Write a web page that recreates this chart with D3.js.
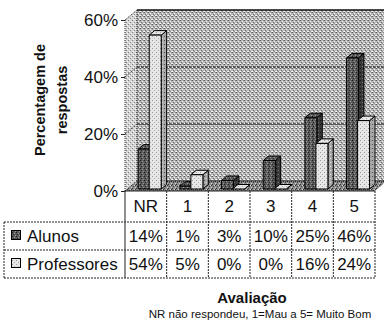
<!DOCTYPE html>
<html>
<head>
<meta charset="utf-8">
<script src="https://cdn.jsdelivr.net/npm/d3@7"></script>
<style>
  html, body { margin: 0; padding: 0; background: #fff; }
  svg { display: block; font-family: Arial, "Liberation Sans", sans-serif; }
</style>
</head>
<body>
<svg id="chart" width="384" height="322"></svg>
<script>
// Survey ratings: share of answers per rating, students vs. teachers
const categories = ["NR", "1", "2", "3", "4", "5"];
const alunos = [0.14, 0.01, 0.03, 0.10, 0.25, 0.46];
const professores = [0.54, 0.05, 0.00, 0.00, 0.16, 0.24];
const seriesNames = ["Alunos", "Professores"];
const yTicks = [0, 0.2, 0.4, 0.6];
const yTitle = ["Percentagem de", "respostas"];
const xTitle = "Avaliação";
const xNote = "NR não respondeu, 1=Mau a 5= Muito Bom";

const svg = d3.select("#chart");
const defs = svg.append("defs");

// dithered fills
function grain(id, base, dots, step) {
  const p = defs.append("pattern").attr("id", id)
    .attr("width", step).attr("height", step).attr("patternUnits", "userSpaceOnUse");
  p.append("rect").attr("width", step).attr("height", step).attr("fill", base);
  dots.forEach(([x, y, c]) => p.append("rect").attr("x", x).attr("y", y)
    .attr("width", 1).attr("height", 1).attr("fill", c));
}
grain("wall", "#b8b8b8", [[0,0,"#5a5a5a"],[2,1,"#f0f0f0"],[1,2,"#707070"],[3,3,"#efefef"],[3,0,"#8a8a8a"],[0,3,"#ffffff"],[2,3,"#888"]], 4);
grain("side", "#d4d4d4", [[0,0,"#7c7c7c"],[2,2,"#8a8a8a"],[1,3,"#ffffff"],[3,1,"#f4f4f4"]], 4);
grain("floor", "#8a8a8a", [[0,0,"#303030"],[2,1,"#d0d0d0"],[1,2,"#444"],[3,3,"#cfcfcf"],[3,1,"#333"]], 4);
grain("darkF", "#5a5a5a", [[0,0,"#1e1e1e"],[2,1,"#a0a0a0"],[1,2,"#2a2a2a"],[3,3,"#9a9a9a"]], 4);
grain("darkS", "#3a3a3a", [[0,0,"#111"],[2,2,"#777"]], 4);
grain("lightF", "#e6e6e6", [[0,0,"#9a9a9a"],[2,2,"#b0b0b0"]], 4);
grain("lightS", "#a8a8a8", [[0,0,"#555"],[2,2,"#e0e0e0"]], 4);

// plot geometry
const x0 = 125, x1 = 375;
const DX = 12, DY = -10;            // full floor depth
const x = d3.scaleBand().domain(categories).range([x0, x1]);
const y = d3.scaleLinear().domain([0, 0.6]).range([191, 20]);

const g = svg.append("g");

// side wall, back wall, floor
g.append("polygon")
  .attr("points", [[x0, y(0.6)], [x0 + DX, y(0.6) + DY], [x0 + DX, y(0) + DY], [x0, y(0)]].join(" "))
  .attr("fill", "url(#side)");
g.append("polygon")
  .attr("points", [[x0 + DX, y(0.6) + DY], [x1 + DX, y(0.6) + DY], [x1 + DX, y(0) + DY], [x0 + DX, y(0) + DY]].join(" "))
  .attr("fill", "url(#wall)");
g.append("polygon")
  .attr("points", [[x0, y(0)], [x0 + DX, y(0) + DY], [x1 + DX, y(0) + DY], [x1, y(0)]].join(" "))
  .attr("fill", "url(#floor)");

// gridlines on back and side walls
yTicks.forEach(t => {
  g.append("line")
    .attr("x1", x0 + DX).attr("x2", x1 + DX)
    .attr("y1", y(t) + DY).attr("y2", y(t) + DY)
    .attr("stroke", "#111").attr("stroke-width", t === 0.6 ? 1.5 : 1)
    .attr("stroke-dasharray", t === 0.6 ? null : "3,1");
  g.append("line")
    .attr("x1", x0).attr("x2", x0 + DX)
    .attr("y1", y(t)).attr("y2", y(t) + DY)
    .attr("stroke", "#222").attr("stroke-dasharray", "1,1");
});
g.append("line").attr("x1", x0 + DX).attr("x2", x0 + DX)
  .attr("y1", y(0.6) + DY).attr("y2", y(0) + DY)
  .attr("stroke", "#333").attr("stroke-dasharray", "1,1");

// 3D bars
const fx = 2.4, fy = -2;      // front face depth offset
const bx = 5.4, by = -4.5;    // bar depth
const bw = 12;
function bar(cat, v, shift, front, side) {
  const left = x(cat) + x.bandwidth() / 2 + shift + fx;
  const right = left + bw;
  const top = y(v) + fy, base = y(0) + fy;
  const bg = g.append("g").attr("stroke", "#000").attr("stroke-width", 1).attr("stroke-linejoin", "round");
  bg.append("polygon").attr("points", [[right, top], [right + bx, top + by], [right + bx, base + by], [right, base]].join(" "))
    .attr("fill", `url(#${side})`);
  bg.append("polygon").attr("points", [[left, top], [left + bx, top + by], [right + bx, top + by], [right, top]].join(" "))
    .attr("fill", `url(#${front})`);
  bg.append("rect").attr("x", left).attr("y", top).attr("width", bw).attr("height", base - top)
    .attr("fill", `url(#${front})`);
}
categories.forEach((c, i) => {
  bar(c, alunos[i], -10, "darkF", "darkS");
  bar(c, professores[i], 1, "lightF", "lightS");
});

// value axis
g.append("line").attr("x1", x0).attr("x2", x0).attr("y1", y(0.6)).attr("y2", y(0))
  .attr("stroke", "#222").attr("stroke-dasharray", "1,1");
const yAxis = d3.axisLeft(y).tickValues(yTicks).tickFormat(d3.format(".0%")).tickSize(4).tickPadding(3);
const ya = svg.append("g").attr("transform", `translate(${x0},0)`).call(yAxis);
ya.select(".domain").remove();
ya.selectAll("line").attr("stroke", "#222");
ya.selectAll("text").attr("font-size", 17).attr("fill", "#111")
  .attr("font-family", "Arial, 'Liberation Sans', sans-serif");

// axis title
const yt = svg.append("text").attr("transform", "translate(45,100) rotate(-90)")
  .attr("text-anchor", "middle").attr("font-size", 14.5).attr("font-weight", "bold").attr("fill", "#111");
yTitle.forEach((s, i) => yt.append("tspan").attr("x", 0).attr("dy", i === 0 ? 0 : 22).text(s));

// data table
const rowY = [191, 222, 250, 278];
const tbl = svg.append("g").attr("stroke", "#222").attr("stroke-width", 1);
tbl.append("line").attr("x1", x0).attr("x2", x1).attr("y1", rowY[0]).attr("y2", rowY[0]).attr("stroke-width", 1.2);
[1, 2, 3].forEach(r => tbl.append("line").attr("x1", 4).attr("x2", x1)
  .attr("y1", rowY[r]).attr("y2", rowY[r]).attr("stroke-dasharray", "2,1"));
tbl.append("line").attr("x1", 4).attr("x2", 4).attr("y1", rowY[1]).attr("y2", rowY[3]).attr("stroke-dasharray", "2,1");
categories.forEach((c, i) => {
  tbl.append("line").attr("x1", x(c)).attr("x2", x(c)).attr("y1", rowY[0]).attr("y2", rowY[3])
    .attr("stroke-dasharray", i === 0 ? null : "2,1");
});
tbl.append("line").attr("x1", x1).attr("x2", x1).attr("y1", rowY[0]).attr("y2", rowY[3]).attr("stroke-dasharray", "2,1");

const cellText = svg.append("g").attr("font-size", 17).attr("fill", "#111").attr("text-anchor", "middle");
categories.forEach((c, i) => {
  const cx = x(c) + x.bandwidth() / 2;
  cellText.append("text").attr("x", cx).attr("y", 212).text(c);
  cellText.append("text").attr("x", cx).attr("y", 242).text(d3.format(".0%")(alunos[i]));
  cellText.append("text").attr("x", cx).attr("y", 270).text(d3.format(".0%")(professores[i]));
});

// legend keys in the table
const keys = [["darkF", 242], ["lightF", 270]];
seriesNames.forEach((name, i) => {
  const ky = keys[i][1];
  svg.append("rect").attr("x", 11.5).attr("y", ky - 11.5).attr("width", 9).attr("height", 9)
    .attr("fill", `url(#${keys[i][0]})`).attr("stroke", "#000");
  svg.append("text").attr("x", 27).attr("y", ky).attr("font-size", 17).attr("fill", "#111").text(name);
});

// category axis title and note
svg.append("text").attr("x", 252).attr("y", 303).attr("text-anchor", "middle")
  .attr("font-size", 15).attr("font-weight", "bold").attr("fill", "#111").text(xTitle);
svg.append("text").attr("x", 260).attr("y", 318).attr("text-anchor", "middle")
  .attr("font-size", 11.5).attr("fill", "#111").text(xNote);
</script>
</body>
</html>
